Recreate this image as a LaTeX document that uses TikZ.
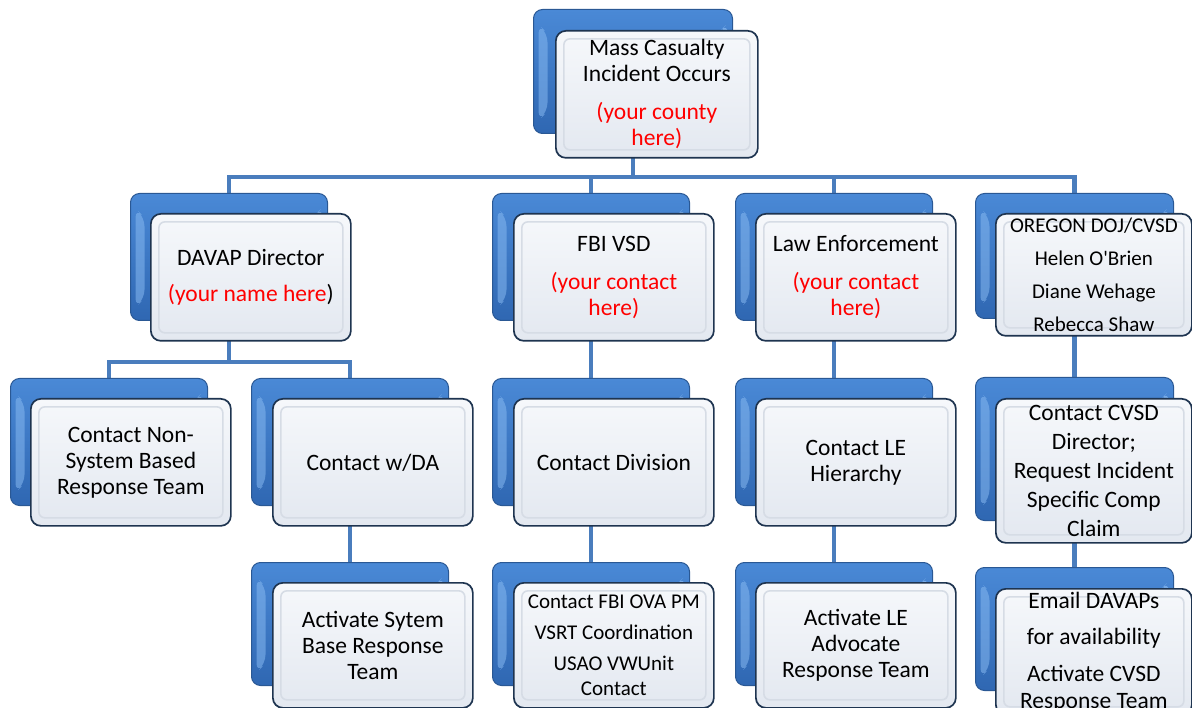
\documentclass[tikz,border=0pt]{standalone}
\usepackage{fontspec}
\setmainfont{Carlito}
\usetikzlibrary{calc}
\definecolor{btop}{HTML}{4A89D6}
\definecolor{bbot}{HTML}{2F67B2}
\definecolor{bbord}{HTML}{2A5894}
\definecolor{bhi}{HTML}{86B8F0}
\definecolor{ftop}{HTML}{F6F8FB}
\definecolor{fbot}{HTML}{E3E8F0}
\definecolor{fbord}{HTML}{1E3450}
\definecolor{finner}{HTML}{D6DCE5}
\definecolor{conncol}{HTML}{4A7DBD}
\pgfdeclarelayer{bg}
\pgfsetlayers{bg,main}
\begin{document}
\begin{tikzpicture}[x=1pt,y=-1pt,
  backbox/.style 2 args={minimum width=#1, minimum height=#2, anchor=north west,
    inner sep=0pt, draw=bbord, line width=1pt, rounded corners=9pt,
    top color=btop, bottom color=bbot,
    path picture={
      \fill[bhi,opacity=0.55] ($(path picture bounding box.north west)+(5,15)$) -- ++(9,9)
        -- ($(path picture bounding box.south west)+(14,-22)$) -- ++(-9,9) -- cycle;
      \fill[bhi,opacity=0.75] ($(path picture bounding box.north east)+(-5,14)$) -- ++(-8,8)
        -- ++(0,14) -- ++(8,8) -- cycle;
    }},
  frontbox/.style 2 args={minimum width=#1, minimum height=#2, anchor=north west,
    inner sep=2pt, draw=fbord, line width=1.7pt, rounded corners=10pt,
    top color=ftop, bottom color=fbot, align=center, text=black,
    font=\fontsize{23.5}{26}\selectfont,
    path picture={
      \draw[finner, line width=1.6pt, rounded corners=6pt]
        ($(path picture bounding box.north west)+(8,8)$) rectangle
        ($(path picture bounding box.south east)+(-8,-8)$);
    }},
  conn/.style={draw=conncol, line width=4.5pt}
]
\useasboundingbox (0,0) rectangle (1192,708);
\clip (0,0) rectangle (1192,708);

% level 1
\node[backbox={199pt}{124pt}] (topb) at (533,9) {};
\node[frontbox={202pt}{127pt}] (top) at (555,30)
  {Mass Casualty\\Incident Occurs\\[12pt]\textcolor{red}{(your county}\\\textcolor{red}{here)}};

% level 2
\node[backbox={197pt}{127pt}] (davapb) at (130,193) {};
\node[frontbox={200pt}{127pt}] (davap) at (150,213)
  {DAVAP Director\\[10pt]\textcolor{red}{(your name here}) };

\node[backbox={197pt}{127pt}] (fbib) at (492,193) {};
\node[frontbox={200pt}{127pt}] (fbi) at (513,213)
  {FBI VSD\\[12pt]\textcolor{red}{(your contact}\\\textcolor{red}{here)}};

\node[backbox={197pt}{127pt}] (leb) at (735,193) {};
\node[frontbox={200pt}{127pt}] (le) at (755,213)
  {Law Enforcement\\[12pt]\textcolor{red}{(your contact}\\\textcolor{red}{here)}};

\node[backbox={198pt}{125pt}] (oregonb) at (975,193) {};
\node[frontbox={196pt}{122pt}, font=\fontsize{21}{33}\selectfont] (oregon) at (995,213)
  {OREGON DOJ/CVSD\\Helen O\textquotesingle Brien\\Diane Wehage\\Rebecca Shaw};

% level 3
\node[backbox={197pt}{127pt}] (nonsysb) at (10,378) {};
\node[frontbox={200pt}{127pt}] (nonsys) at (30,398)
  {Contact Non-\\System Based\\Response Team};

\node[backbox={197pt}{127pt}] (dab) at (251,378) {};
\node[frontbox={200pt}{127pt}] (da) at (272,398) {Contact w/DA};

\node[backbox={197pt}{127pt}] (divb) at (492,378) {};
\node[frontbox={200pt}{127pt}] (div) at (513,398) {Contact Division};

\node[backbox={197pt}{127pt}] (lehb) at (735,378) {};
\node[frontbox={200pt}{127pt}] (leh) at (755,398) {Contact LE\\Hierarchy};

\node[backbox={198pt}{143pt}] (cvsdb) at (975,377) {};
\node[frontbox={196pt}{144pt}, font=\fontsize{23.5}{29}\selectfont] (cvsd) at (995,398)
  {Contact CVSD\\Director;\\Request Incident\\Specific Comp\\Claim};

% level 4
\node[backbox={197pt}{123pt}] (actsysb) at (251,562) {};
\node[frontbox={200pt}{125pt}] (actsys) at (272,582)
  {Activate Sytem\\Base Response\\Team};

\node[backbox={197pt}{123pt}] (ovab) at (492,562) {};
\node[frontbox={200pt}{125pt}, font=\fontsize{21}{25}\selectfont] (ova) at (513,582)
  {Contact FBI OVA PM\\[6pt]VSRT Coordination\\[6pt]USAO VWUnit\\Contact};

\node[backbox={197pt}{123pt}] (leadvb) at (735,562) {};
\node[frontbox={200pt}{125pt}] (leadv) at (755,582)
  {Activate LE\\Advocate\\Response Team};

\node[backbox={198pt}{123pt}] (emailb) at (975,567) {};
\node[frontbox={196pt}{126pt}, font=\fontsize{23.5}{27}\selectfont] (email) at (995,588)
  {Email DAVAPs\\[9pt]for availability\\[10pt]Activate CVSD\\Response Team};

% connectors
\begin{pgfonlayer}{bg}
\draw[conn] (topb.south) -- ++(0,43) -| (davapb.north);
\draw[conn] (topb.south) -- ++(0,43) -| (fbib.north);
\draw[conn] (topb.south) -- ++(0,43) -| (leb.north);
\draw[conn] (topb.south) -- ++(0,43) -| (oregonb.north);
\draw[conn] (davapb.south) -- ++(0,41) -| (nonsysb.north);
\draw[conn] (davapb.south) -- ++(0,41) -| (dab.north);
\draw[conn] (fbib.south) -- (divb.north);
\draw[conn] (leb.south) -- (lehb.north);
\draw[conn] (oregonb.south) -- (cvsdb.north);
\draw[conn] (dab.south) -- (actsysb.north);
\draw[conn] (divb.south) -- (ovab.north);
\draw[conn] (lehb.south) -- (leadvb.north);
\draw[conn] (cvsdb.south) -- (emailb.north);
\end{pgfonlayer}
\end{tikzpicture}
\end{document}
